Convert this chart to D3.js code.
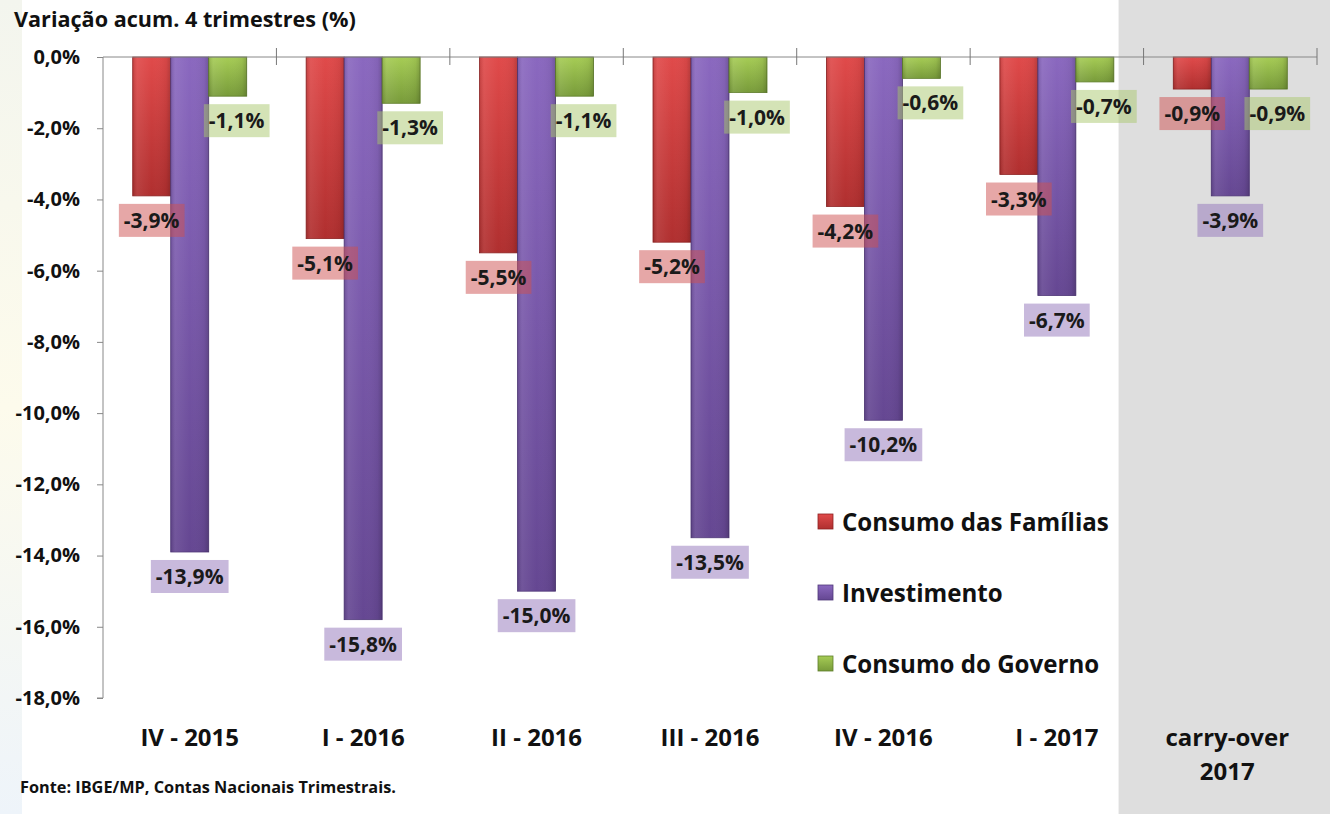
<!DOCTYPE html>
<html>
<head>
<meta charset="utf-8">
<script src="https://cdn.jsdelivr.net/npm/d3@7"></script>
<style>
	body { margin: 0; background: #fff; }
	svg { display: block; font-family: "Open Sans", Lato, sans-serif; font-weight: bold; }
</style>
</head>
<body>
<svg id="chart" width="1330" height="814"></svg>
<script>
// Chart data
const categories = ['IV - 2015', 'I - 2016', 'II - 2016', 'III - 2016', 'IV - 2016', 'I - 2017', 'carry-over|2017']
const seriesNames = ['Consumo das Famílias', 'Investimento', 'Consumo do Governo']
const familias = [-3.9, -5.1, -5.5, -5.2, -4.2, -3.3, -0.9]
const investimento = [-13.9, -15.8, -15.0, -13.5, -10.2, -6.7, -3.9]
const governo = [-1.1, -1.3, -1.1, -1.0, -0.6, -0.7, -0.9]
const yTicks = [0, -2, -4, -6, -8, -10, -12, -14, -16, -18]

;(function() {
	let svg = d3.select('#chart')
	const W = 1330, H = 814
	const margin = { top: 57, left: 103, right: 13, bottom: 116 }
	const fmt = v => d3.format('.1f')(v).replace('.', ',').replace('−', '-') + '%'

	let series = [
		{ name: seriesNames[0], values: familias, top: '#e04a4a', bottom: '#b02f2f', edge: '#8e2222', box: 'rgba(205,80,80,0.5)', dx: 0 },
		{ name: seriesNames[1], values: investimento, top: '#8a68bf', bottom: '#654792', edge: '#4f3778', box: 'rgba(145,115,185,0.5)', dx: 0 },
		{ name: seriesNames[2], values: governo, top: '#a6cc55', bottom: '#789b3a', edge: '#5e7d2a', box: 'rgba(170,200,110,0.5)', dx: 9 }
	]

	// faint slide background on the left edge
	let defs = svg.append('defs')
	let edgeGrad = defs.append('linearGradient').attr('id', 'edge').attr('x1', 0).attr('x2', 0).attr('y1', 0).attr('y2', 1)
	edgeGrad.append('stop').attr('offset', '0%').attr('stop-color', '#f3f5ee')
	edgeGrad.append('stop').attr('offset', '50%').attr('stop-color', '#fdfbec')
	edgeGrad.append('stop').attr('offset', '100%').attr('stop-color', '#eef4fa')
	svg.append('rect').attr('x', 0).attr('y', 0).attr('width', 22).attr('height', H).attr('fill', 'url(#edge)')

	series.forEach((s, i) => {
		let g = defs.append('linearGradient').attr('id', 'grad' + i)
			.attr('x1', 0).attr('x2', 0).attr('y1', 0).attr('y2', 1)
		g.append('stop').attr('offset', '0%').attr('stop-color', s.top)
		g.append('stop').attr('offset', '100%').attr('stop-color', s.bottom)
	})
	let shine = defs.append('linearGradient').attr('id', 'shine')
	shine.append('stop').attr('offset', '0%').attr('stop-color', '#000').attr('stop-opacity', 0.12)
	shine.append('stop').attr('offset', '12%').attr('stop-color', '#fff').attr('stop-opacity', 0.08)
	shine.append('stop').attr('offset', '50%').attr('stop-color', '#fff').attr('stop-opacity', 0)
	shine.append('stop').attr('offset', '88%').attr('stop-color', '#000').attr('stop-opacity', 0.05)
	shine.append('stop').attr('offset', '100%').attr('stop-color', '#000').attr('stop-opacity', 0.18)

	// Scales
	let x = d3.scaleBand()
		.domain(categories)
		.range([margin.left, W - margin.right])
	let barW = 38
	let inner = d3.scaleBand()
		.domain(seriesNames)
		.range([(x.bandwidth() - barW * 3) / 2, (x.bandwidth() + barW * 3) / 2])
	let y = d3.scaleLinear()
		.domain([0, -18])
		.range([margin.top, H - margin.bottom])

	// grey carry-over panel
	let last = categories[categories.length - 1]
	let panelX = x(last) - 25
	svg.append('rect')
		.attr('x', panelX).attr('y', 0)
		.attr('width', W - panelX).attr('height', H)
		.attr('fill', '#dedede')

	// Title
	svg.append('text')
		.attr('x', 14).attr('y', 27)
		.attr('font-size', 21.6)
		.attr('fill', '#111')
		.text('Variação acum. 4 trimestres (%)')

	// Y axis
	let yAxis = svg.append('g')
		.attr('transform', `translate(${margin.left},0)`)
		.call(d3.axisLeft(y).tickValues(yTicks).tickSize(6).tickPadding(17).tickFormat(fmt))
	yAxis.select('.domain').attr('stroke', '#888').attr('d', `M-6,${y(-18)}H0V${y(0)}`)
	yAxis.selectAll('.tick line').attr('stroke', '#888')
	yAxis.selectAll('.tick text')
		.attr('font-size', 20)
		.attr('fill', '#111')
		.attr('font-family', '"Open Sans", sans-serif')
		.attr('font-weight', 'bold')

	// Bars
	categories.forEach((c, ci) => {
		series.forEach((s, si) => {
			let v = s.values[ci]
			let bx = x(c) + inner(s.name)
			let g = svg.append('g')
			g.append('rect')
				.attr('x', bx).attr('y', y(0))
				.attr('width', inner.bandwidth())
				.attr('height', y(v) - y(0))
				.attr('fill', `url(#grad${si})`)
				.attr('stroke', s.edge).attr('stroke-width', 0.8)
			g.append('rect')
				.attr('x', bx).attr('y', y(0))
				.attr('width', inner.bandwidth())
				.attr('height', y(v) - y(0))
				.attr('fill', 'url(#shine)')
		})
	})

	// X axis line with crossing ticks
	let xAxis = svg.append('g')
	xAxis.append('line')
		.attr('x1', margin.left).attr('x2', W - margin.right)
		.attr('y1', y(0)).attr('y2', y(0))
		.attr('stroke', '#888')
	categories.forEach(c => {
		xAxis.append('line')
			.attr('x1', x(c) + x.bandwidth()).attr('x2', x(c) + x.bandwidth())
			.attr('y1', y(0) - 9).attr('y2', y(0) + 8)
			.attr('stroke', '#777')
	})

	// Value labels
	categories.forEach((c, ci) => {
		series.forEach((s, si) => {
			let v = s.values[ci]
			let cx = x(c) + inner(s.name) + inner.bandwidth() / 2 + s.dx
			let cy = y(v) + 24
			let g = svg.append('g')
			let box = g.append('rect').attr('fill', s.box)
			let t = g.append('text')
				.attr('x', cx).attr('y', cy)
				.attr('text-anchor', 'middle')
				.attr('dominant-baseline', 'central')
				.attr('font-size', 21)
				.attr('fill', '#1a1a1a')
				.text(fmt(v))
			let w = t.node().getComputedTextLength() + 10
			box.attr('x', cx - w / 2).attr('y', cy - 16).attr('width', w).attr('height', 33)
		})
	})

	// Category labels
	categories.forEach(c => {
		let lines = c.split('|')
		let t = svg.append('text')
			.attr('text-anchor', 'middle')
			.attr('font-size', 24)
			.attr('fill', '#111')
		lines.forEach((l, i) => {
			t.append('tspan')
				.attr('x', x(c) + x.bandwidth() / 2 + (lines.length > 1 ? -3 : 0))
				.attr('y', 746 + i * 34)
				.text(l)
		})
	})

	// Legend
	series.forEach((s, i) => {
		let ly = 521 + i * 71
		svg.append('rect')
			.attr('x', 818).attr('y', ly - 7)
			.attr('width', 15).attr('height', 15)
			.attr('fill', `url(#grad${i})`)
			.attr('stroke', s.edge).attr('stroke-width', 0.8)
		svg.append('text')
			.attr('x', 842).attr('y', ly)
			.attr('dominant-baseline', 'central')
			.attr('font-size', 24.1)
			.attr('fill', '#111')
			.text(s.name)
	})

	// Source
	svg.append('text')
		.attr('x', 20).attr('y', 793)
		.attr('font-size', 16.3)
		.attr('fill', '#111')
		.text('Fonte: IBGE/MP, Contas Nacionais Trimestrais.')
})();
</script>
</body>
</html>
